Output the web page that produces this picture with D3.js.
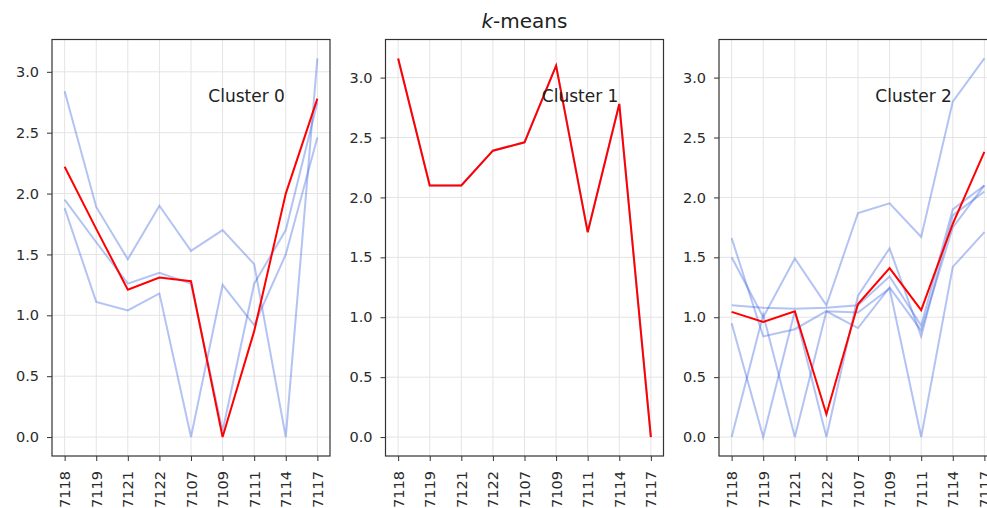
<!DOCTYPE html>
<html>
<head>
<meta charset="utf-8">
<script src="https://cdn.jsdelivr.net/npm/d3@7"></script>
<style>
  body { margin: 0; background: #fff; overflow: hidden; }
  svg { display: block; font-family: "DejaVu Sans", sans-serif; }
</style>
</head>
<body>
<svg width="987" height="508"></svg>
<script>
// x categories (same for every panel)
const categories = ['7118', '7119', '7121', '7122', '7107', '7109', '7111', '7114', '7117'];

// cluster 0: member series and centre
const cluster0Members = [
  [2.84, 1.89, 1.46, 1.90, 1.53, 1.70, 1.42, 0.00, 3.11],
  [1.95, 1.60, 1.26, 1.35, 1.26, 0.05, 1.26, 1.70, 2.75],
  [1.88, 1.11, 1.04, 1.18, 0.00, 1.25, 0.92, 1.50, 2.46]
];
const cluster0Centre = [2.22, 1.71, 1.21, 1.31, 1.28, 0.00, 0.87, 2.00, 2.78];

// cluster 1: a single member, drawn under its centre
const cluster1Members = [
  [3.16, 2.10, 2.10, 2.39, 2.46, 3.10, 1.71, 2.78, 0.00]
];
const cluster1Centre = [3.16, 2.10, 2.10, 2.39, 2.46, 3.10, 1.71, 2.78, 0.00];

// cluster 2
const cluster2Members = [
  [1.50, 1.00, 1.49, 1.10, 1.87, 1.95, 1.67, 2.80, 3.16],
  [1.10, 1.08, 1.07, 1.08, 1.10, 1.34, 0.93, 1.90, 2.10],
  [1.66, 0.84, 0.90, 1.05, 0.91, 1.25, 0.89, 1.75, 2.10],
  [0.95, 0.00, 1.05, 0.00, 1.18, 1.575, 0.84, 1.85, 2.05],
  [0.00, 1.02, 0.00, 1.05, 1.04, 1.24, 0.00, 1.42, 1.71]
];
const cluster2Centre = [1.045, 0.96, 1.05, 0.19, 1.11, 1.41, 1.06, 1.78, 2.38];

const clusterNames = ['Cluster 0', 'Cluster 1', 'Cluster 2'];
const yTicks = [0, 0.5, 1.0, 1.5, 2.0, 2.5, 3.0];

const panels = [
  {name: clusterNames[0], members: cluster0Members, centre: cluster0Centre},
  {name: clusterNames[1], members: cluster1Members, centre: cluster1Centre},
  {name: clusterNames[2], members: cluster2Members, centre: cluster2Centre}
];

const svg = d3.select('svg');
const panelLeft = [52, 385.5, 719];
const panelW = 278;
const plotTop = 39.5, plotBottom = 456;

// title
svg.append('text')
  .attr('x', panelLeft[1] + panelW / 2)
  .attr('y', 28)
  .attr('text-anchor', 'middle')
  .attr('font-size', 20)
  .attr('fill', '#222')
  .call(t => {
    t.append('tspan').attr('font-style', 'italic').text('k');
    t.append('tspan').text('-means');
  });

panels.forEach((p, i) => {
  const left = panelLeft[i];
  const g = svg.append('g');

  // x: index scale with matplotlib-like 5% margins
  const n = categories.length;
  const x = d3.scaleLinear()
    .domain([-0.05 * (n - 1), (n - 1) * 1.05])
    .range([left, left + panelW]);

  // y: data extent padded by 5%
  const all = p.members.flat().concat(p.centre);
  const [lo, hi] = d3.extent(all);
  const pad = (hi - lo) * 0.05;
  const y = d3.scaleLinear().domain([lo - pad, hi + pad]).range([plotBottom, plotTop]);

  // grid
  g.append('g').selectAll('line').data(categories).join('line')
    .attr('x1', (d, j) => x(j)).attr('x2', (d, j) => x(j))
    .attr('y1', plotTop).attr('y2', plotBottom)
    .attr('stroke', '#e4e4e4').attr('stroke-width', 1);
  g.append('g').selectAll('line').data(yTicks).join('line')
    .attr('x1', left).attr('x2', left + panelW)
    .attr('y1', d => y(d)).attr('y2', d => y(d))
    .attr('stroke', '#e4e4e4').attr('stroke-width', 1);

  const line = d3.line().x((d, j) => x(j)).y(d => y(d));

  // members
  g.append('g').selectAll('path').data(p.members).join('path')
    .attr('d', line)
    .attr('fill', 'none')
    .attr('stroke', 'royalblue')
    .attr('stroke-opacity', 0.4)
    .attr('stroke-width', 2);

  // centre
  g.append('path').datum(p.centre)
    .attr('d', line)
    .attr('fill', 'none')
    .attr('stroke', '#ff0000')
    .attr('stroke-width', 2);

  // frame
  g.append('rect')
    .attr('x', left).attr('y', plotTop)
    .attr('width', panelW).attr('height', plotBottom - plotTop)
    .attr('fill', 'none').attr('stroke', '#333').attr('stroke-width', 1.2);

  // axes
  const yAxis = g.append('g')
    .attr('transform', `translate(${left},0)`)
    .call(d3.axisLeft(y).tickValues(yTicks).tickFormat(d3.format('.1f')).tickSize(5).tickPadding(8));
  const xAxis = g.append('g')
    .attr('transform', `translate(0,${plotBottom})`)
    .call(d3.axisBottom(x).tickValues(d3.range(n)).tickFormat(j => categories[j]).tickSize(5).tickPadding(8));

  [yAxis, xAxis].forEach(a => {
    a.select('.domain').remove();
    a.selectAll('line').attr('stroke', '#333');
    a.selectAll('text').attr('fill', '#2a2a2a').attr('font-size', 14.5)
      .attr('font-family', '"DejaVu Sans", sans-serif');
  });

  // rotate x labels to read upward
  xAxis.selectAll('text')
    .attr('transform', 'rotate(-90)')
    .attr('text-anchor', 'end')
    .attr('x', -15)
    .attr('y', 0)
    .attr('dy', '0.35em');

  // cluster label at axes fraction (0.7, 0.85)
  g.append('text')
    .attr('x', left + 0.7 * panelW)
    .attr('y', plotBottom - 0.85 * (plotBottom - plotTop))
    .attr('text-anchor', 'middle')
    .attr('font-size', 17)
    .attr('fill', '#222')
    .text(p.name);
});
</script>
</body>
</html>
